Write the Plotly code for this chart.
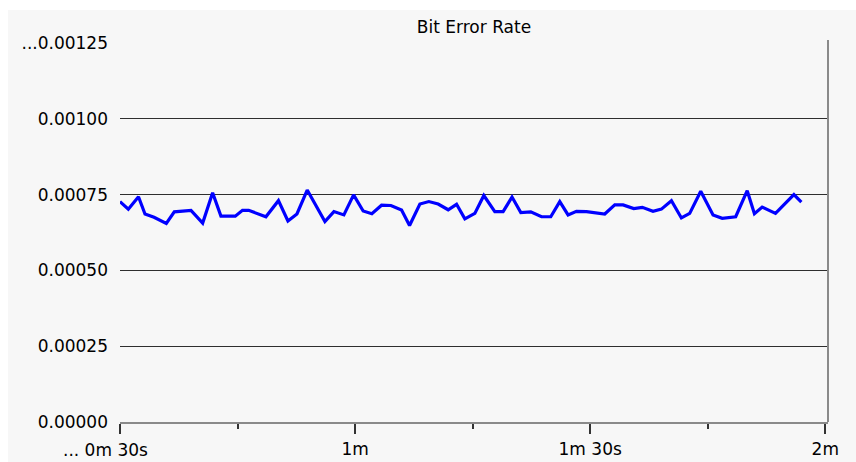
import plotly.graph_objects as go

# Elapsed time (seconds) and measured bit error rate
time_s = [30.00, 31.06, 32.36, 33.19, 34.34, 35.91, 36.93, 39.06, 40.55, 41.82,
          42.88, 44.71, 45.63, 46.42, 48.62, 50.22, 51.43, 52.58, 53.89, 56.15,
          57.30, 58.57, 59.81, 61.03, 62.14, 63.38, 64.57, 65.93, 66.95, 68.27,
          69.41, 70.60, 71.88, 72.95, 74.01, 75.28, 76.43, 77.83, 78.89, 80.03,
          81.15, 82.42, 83.79, 84.97, 86.12, 87.18, 88.25, 89.53, 91.86, 93.14,
          94.20, 95.56, 96.65, 98.02, 99.09, 100.37, 101.64, 102.70, 104.11, 105.68,
          106.85, 108.57, 110.04, 110.96, 111.95, 113.65, 116.00, 116.95]
ber = [0.000727, 0.000702, 0.000743, 0.000686, 0.000675, 0.000655, 0.000693, 0.000698, 0.000656, 0.000756,
       0.000679, 0.000679, 0.000698, 0.000698, 0.000677, 0.000730, 0.000663, 0.000686, 0.000765, 0.000661,
       0.000694, 0.000683, 0.000749, 0.000696, 0.000687, 0.000715, 0.000714, 0.000699, 0.000648, 0.000719,
       0.000727, 0.000719, 0.000700, 0.000718, 0.000670, 0.000688, 0.000747, 0.000694, 0.000694, 0.000742,
       0.000691, 0.000693, 0.000677, 0.000677, 0.000727, 0.000683, 0.000695, 0.000694, 0.000686, 0.000716,
       0.000716, 0.000704, 0.000708, 0.000695, 0.000702, 0.000730, 0.000673, 0.000688, 0.000761, 0.000683,
       0.000672, 0.000677, 0.000763, 0.000687, 0.000709, 0.000688, 0.000750, 0.000725]

# Axis ticks
y_ticks = [0.0, 0.00025, 0.0005, 0.00075, 0.001, 0.00125]
y_labels = ["0.00000", "0.00025", "0.00050", "0.00075", "0.00100", "...0.00125"]
x_ticks = [30, 60, 90, 120]
x_labels = ["", "1m", "1m 30s", "2m"]
first_x_label = "... 0m 30s"

FONT = "DejaVu Sans"
FSIZE = 17
BG = "#f7f7f7"

fig = go.Figure()
fig.add_trace(go.Scatter(
    x=time_s, y=ber, mode="lines",
    line=dict(color="#0000ff", width=3.2),
    hoverinfo="skip", showlegend=False,
))

fig.update_layout(
    width=856, height=462,
    margin=dict(l=120, r=28, t=43, b=40),
    paper_bgcolor=BG, plot_bgcolor=BG,
    font=dict(family=FONT, size=FSIZE, color="#000000"),
    title=dict(text="Bit Error Rate", xref="paper", x=0.5, xanchor="center",
               yref="container", y=1 - 27.5 / 462, yanchor="middle",
               automargin=False,
               font=dict(family=FONT, size=FSIZE, color="#000000")),
    xaxis=dict(
        range=[30, 120.35], showgrid=False, zeroline=False, automargin=False,
        showline=True, linecolor="#8a8a8a", linewidth=2,
        tickmode="array", tickvals=x_ticks, ticktext=x_labels,
        ticks="outside", ticklen=10, tickwidth=1.5, tickcolor="#333333",
        minor=dict(dtick=15, tick0=30, ticks="outside", ticklen=5,
                   tickwidth=1.5, tickcolor="#333333"),
        ticklabelstandoff=1,
        tickfont=dict(family=FONT, size=FSIZE, color="#000000"),
    ),
    yaxis=dict(
        range=[0, 0.00125], zeroline=False, showline=False, automargin=False,
        tickmode="array", tickvals=y_ticks, ticktext=y_labels,
        showgrid=True, gridcolor="#2e2e2e", gridwidth=1,
        ticks="", ticklabelstandoff=11,
        tickfont=dict(family=FONT, size=FSIZE, color="#000000"),
    ),
    annotations=[dict(
        text=first_x_label, x=x_ticks[0], xref="x", xanchor="center", xshift=-15,
        y=0, yref="paper", yanchor="top", yshift=-16, showarrow=False,
        font=dict(family=FONT, size=FSIZE, color="#000000"),
    )],
    shapes=[
        # right-hand frame line
        dict(type="line", xref="paper", yref="paper", x0=1, x1=1, y0=0, y1=1.008,
             line=dict(color="#8a8a8a", width=2)),
        # white border strips along the top and left edges
        dict(type="rect", xref="paper", yref="paper", x0=-0.2, x1=1.1,
             y0=1 + 33 / 379, y1=1.2, line=dict(width=0), fillcolor="#ffffff",
             layer="below"),
        dict(type="rect", xref="paper", yref="paper", x0=-0.2, x1=-112 / 708,
             y0=-0.2, y1=1.2, line=dict(width=0), fillcolor="#ffffff",
             layer="below"),
    ],
)

fig.write_html("out.html")
